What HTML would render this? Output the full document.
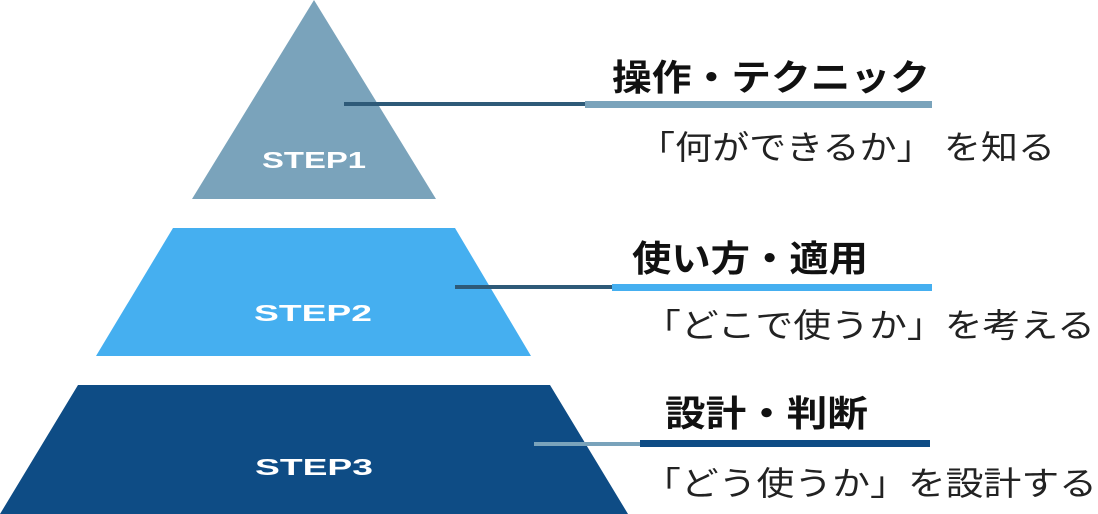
<!DOCTYPE html>
<html><head><meta charset="utf-8"><style>
html,body{margin:0;padding:0;background:#fff;}
svg{display:block;}
.s{font-family:"Liberation Sans",sans-serif;font-weight:bold;font-size:23px;fill:#fff;}
.t{font-family:"Liberation Sans","Noto Sans CJK JP",sans-serif;font-weight:bold;font-size:36px;fill:#111;}
.u{font-family:"Liberation Sans","Noto Sans CJK JP",sans-serif;font-size:33px;fill:#222;}
</style></head><body>
<svg width="1098" height="514" viewBox="0 0 1098 514" xmlns="http://www.w3.org/2000/svg">
<polygon points="314,0 436,199 192,199" fill="#7aa3bb"/>
<polygon points="173,228 455,228 531,356 96,356" fill="#45aff0"/>
<polygon points="78,385 550,385 628,514 0,514" fill="#0e4c85"/>
<text class="s" x="314" y="168" text-anchor="middle" textLength="104" lengthAdjust="spacingAndGlyphs">STEP1</text>
<text class="s" x="313" y="321" text-anchor="middle" textLength="118" lengthAdjust="spacingAndGlyphs">STEP2</text>
<text class="s" x="314" y="475" text-anchor="middle" textLength="118" lengthAdjust="spacingAndGlyphs">STEP3</text>
<rect x="344" y="102" width="241" height="4" fill="#2e5a78"/>
<rect x="585" y="101" width="347" height="7" fill="#7aa3bb"/>
<rect x="455" y="285" width="157" height="4" fill="#2e5a78"/>
<rect x="612" y="284" width="320" height="7" fill="#45aff0"/>
<rect x="534" y="442" width="106" height="4" fill="#7aa3bb"/>
<rect x="640" y="440" width="290" height="7" fill="#0e4c85"/>
<text class="t" x="612" y="90" textLength="318" lengthAdjust="spacingAndGlyphs">操作・テクニック</text>
<text class="u" x="638" y="159" textLength="417" lengthAdjust="spacingAndGlyphs">「何ができるか」 を知る</text>
<text class="t" x="632" y="271" textLength="236" lengthAdjust="spacingAndGlyphs">使い方・適用</text>
<text class="u" x="643" y="337" textLength="452" lengthAdjust="spacingAndGlyphs">「どこで使うか」を考える</text>
<text class="t" x="665" y="426" textLength="203" lengthAdjust="spacingAndGlyphs">設計・判断</text>
<text class="u" x="643" y="495" textLength="454" lengthAdjust="spacingAndGlyphs">「どう使うか」を設計する</text>
</svg>
</body></html>
